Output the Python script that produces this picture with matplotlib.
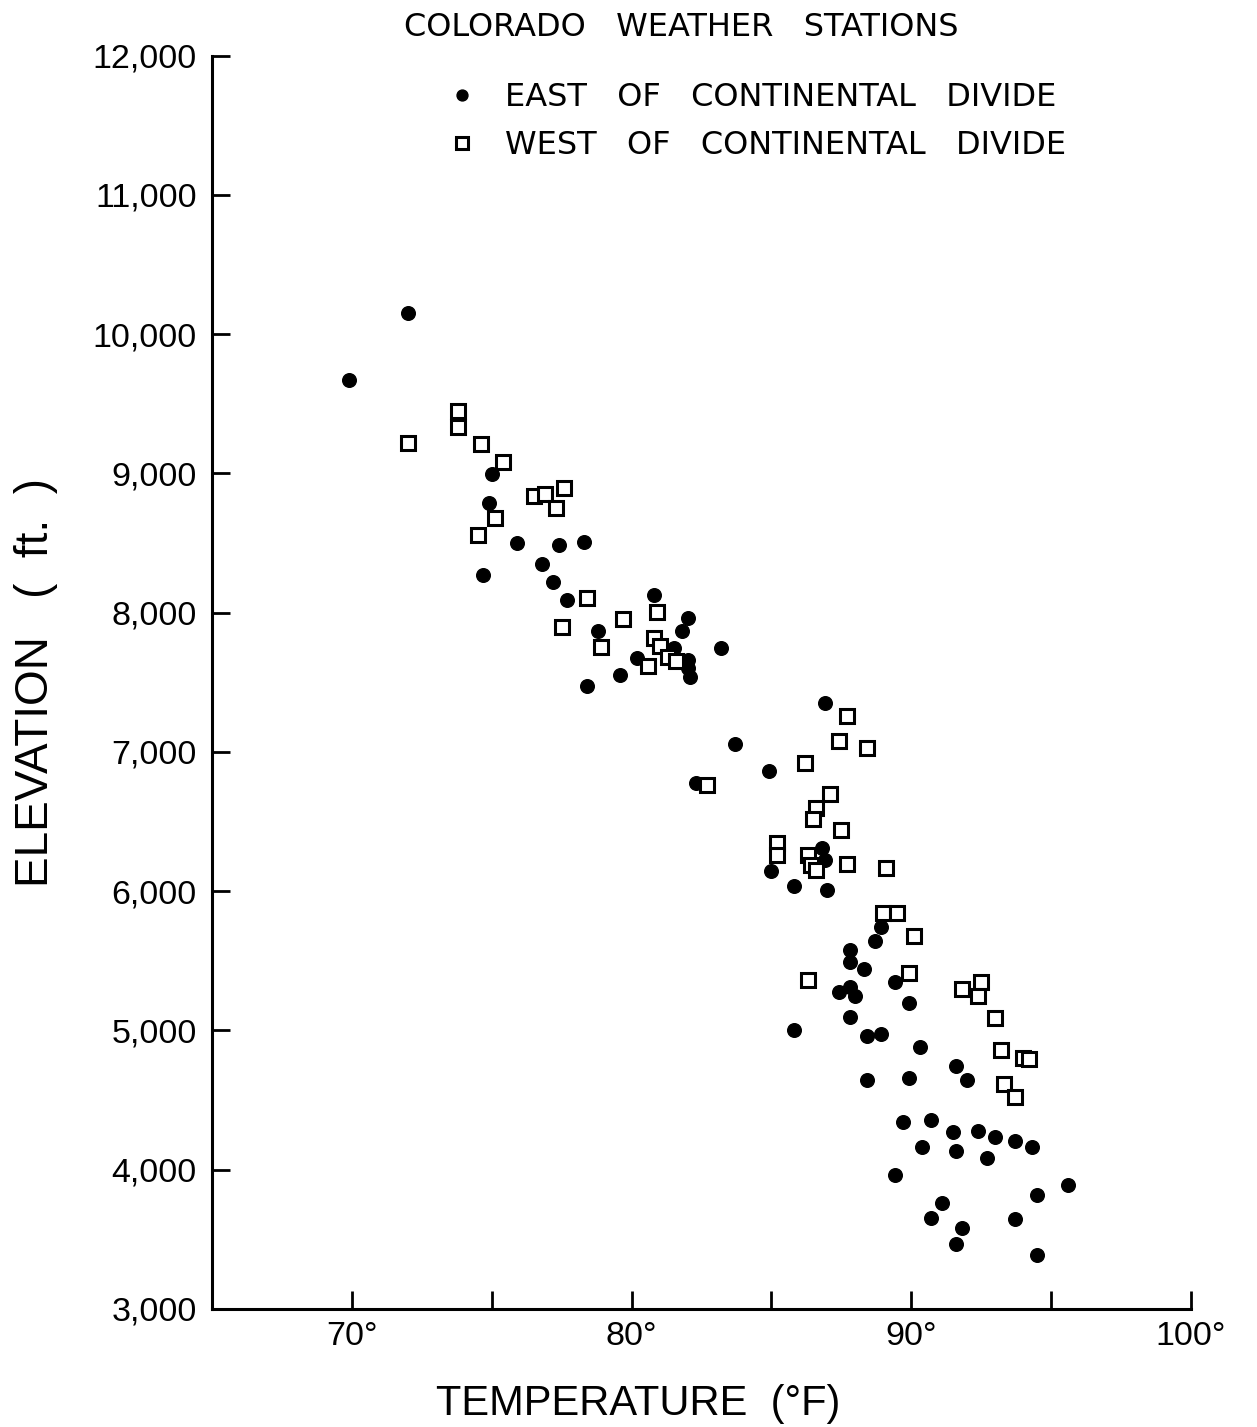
import matplotlib
matplotlib.use("Agg")
import matplotlib.pyplot as plt
from matplotlib.ticker import FixedLocator

plt.rcParams['font.family'] = ['Liberation Sans', 'DejaVu Sans']

# temperature (deg F) and elevation (ft)
east_temp = [72.0, 69.9, 75.0, 74.9, 74.7, 75.9, 77.4, 78.3, 76.8, 77.2,
             77.7, 80.8, 82.0, 81.8, 78.8, 80.2, 81.5, 79.6, 78.4, 82.0,
             82.0, 82.1, 83.2, 83.7, 84.9, 82.3, 86.9, 86.8, 86.9, 85.0,
             85.8, 87.0, 88.9, 88.7, 87.8, 87.8, 88.3, 89.4, 87.4, 87.8,
             88.0, 89.9, 87.8, 85.8, 88.4, 88.9, 90.3, 91.6, 92.0, 88.4,
             89.9, 89.7, 90.7, 91.5, 92.4, 93.0, 93.7, 94.3, 90.4, 91.6,
             92.7, 89.4, 95.6, 94.5, 91.1, 90.7, 93.7, 91.8, 91.6, 94.5]
east_elev = [10150, 9670, 8995, 8785, 8270, 8500, 8485, 8505, 8350, 8220,
             8090, 8125, 7960, 7870, 7870, 7675, 7745, 7555, 7470, 7660,
             7600, 7540, 7745, 7060, 6865, 6775, 7355, 6310, 6225, 6145,
             6040, 6010, 5745, 5640, 5575, 5495, 5440, 5350, 5275, 5315,
             5245, 5195, 5095, 5000, 4960, 4975, 4880, 4745, 4645, 4645,
             4660, 4340, 4360, 4270, 4280, 4235, 4205, 4160, 4165, 4135,
             4085, 3960, 3890, 3820, 3760, 3650, 3645, 3580, 3465, 3390]

west_temp = [73.8, 73.8, 72.0, 74.6, 75.4, 76.5, 76.9, 77.6, 77.3, 75.1,
             74.5, 78.4, 77.5, 79.7, 78.9, 80.9, 80.8, 81.0, 81.3, 81.6,
             80.6, 82.7, 87.7, 87.4, 88.4, 86.2, 87.1, 86.6, 86.5, 87.5,
             85.2, 85.2, 86.3, 86.4, 86.6, 87.7, 89.1, 89.0, 89.5, 90.1,
             86.3, 89.9, 91.8, 92.5, 92.4, 93.0, 93.2, 94.0, 94.2, 93.3,
             93.7]
west_elev = [9450, 9335, 9215, 9210, 9080, 8835, 8855, 8895, 8755, 8680,
             8560, 8105, 7895, 7955, 7755, 8005, 7820, 7760, 7685, 7650,
             7620, 6765, 7255, 7080, 7025, 6920, 6695, 6595, 6515, 6440,
             6345, 6260, 6260, 6190, 6150, 6195, 6170, 5845, 5845, 5675,
             5365, 5415, 5295, 5350, 5245, 5090, 4860, 4800, 4795, 4615,
             4520]

x_ticks = [65, 70, 75, 80, 85, 90, 95, 100]
x_tick_labels = ['', '70°', '', '80°', '', '90°', '', '100°']
y_ticks = [3000, 4000, 5000, 6000, 7000, 8000, 9000, 10000, 11000, 12000]
y_tick_labels = ['3,000', '4,000', '5,000', '6,000', '7,000', '8,000',
                 '9,000', '10,000', '11,000', '12,000']

fig = plt.figure(figsize=(12.57, 14.27), dpi=100)
ax = fig.add_axes([0.1687, 0.0827, 0.7788, 0.8783])

ax.plot(east_temp, east_elev, 'o', ms=9.8, color='black', mec='black',
        label='EAST   OF   CONTINENTAL   DIVIDE')
ax.plot(west_temp, west_elev, 's', ms=10, mfc='white', mec='black', mew=2.2,
        label='WEST   OF   CONTINENTAL   DIVIDE')

ax.set_xlim(65, 100)
ax.set_ylim(3000, 12000)
ax.xaxis.set_major_locator(FixedLocator(x_ticks))
ax.set_xticklabels(x_tick_labels)
ax.yaxis.set_major_locator(FixedLocator(y_ticks))
ax.set_yticklabels(y_tick_labels)

for side in ['top', 'right']:
    ax.spines[side].set_visible(False)
for side in ['left', 'bottom']:
    ax.spines[side].set_linewidth(2.2)
ax.tick_params(direction='in', length=13, width=2, labelsize=24.5)
ax.tick_params(axis='x', pad=9)
ax.tick_params(axis='y', pad=11)

fig.text(0.5076, 0.0085, 'TEMPERATURE  (°F)', fontsize=30, ha='center',
         va='baseline')
fig.text(0.029, 0.522, 'ELEVATION   (  ft.  )', fontsize=33, rotation=90,
         ha='center', va='center')

fig.text(0.542, 0.9805, 'COLORADO   WEATHER   STATIONS', fontsize=23,
         ha='center', va='center', family=['DejaVu Sans'])

leg = ax.legend(loc='upper left', bbox_to_anchor=(0.3548, 0.9425),
                bbox_transform=fig.transFigure, frameon=False,
                prop={'family': 'DejaVu Sans', 'size': 23},
                borderpad=0, borderaxespad=0, handlelength=1.0,
                handletextpad=0.84, labelspacing=0.53, markerscale=0.8)

fig.savefig('out.png', dpi=100)
